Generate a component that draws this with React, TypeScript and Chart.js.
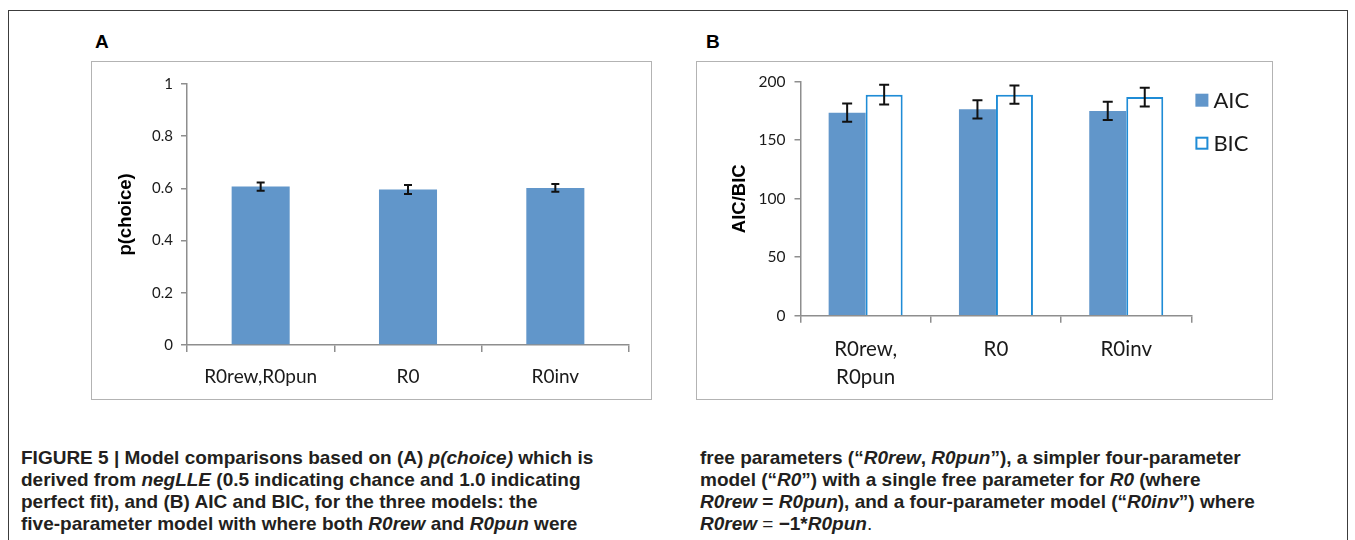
import React, { useEffect, useRef } from "react";
import { Chart, registerables } from "chart.js";

Chart.register(...registerables);

// ---------- Data ----------
const modelsA = ["R0rew,R0pun", "R0", "R0inv"];
const pChoice = [0.607, 0.596, 0.602];
const pChoiceErr = [0.016, 0.017, 0.015];
const yTicksA = [0, 0.2, 0.4, 0.6, 0.8, 1];

const modelsB = [["R0rew,", "R0pun"], "R0", "R0inv"];
const aicValues = [173.5, 176.4, 175.0];
const aicErr = [7.8, 7.8, 7.8];
const bicValues = [188.9, 188.9, 186.9];
const bicErr = [8.4, 7.8, 8.0];
const yTicksB = [0, 50, 100, 150, 200];

// ---------- Styles ----------
const AXIS = "#8e8e8e";
const BAR_FILL = "#6196ca";
const BIC_EDGE = "#1f8cd6";
const TXT = "#1a1a1a";
const TICK_FONT = "Lato, 'Open Sans', sans-serif";
const TITLE_FONT = "'Liberation Sans', Arial, sans-serif";

const errorBarPlugin = {
  id: "errorBars",
  afterDatasetsDraw(chart: any) {
    const { ctx } = chart;
    const yScale = chart.scales.y;
    chart.data.datasets.forEach((ds: any, di: number) => {
      const meta = chart.getDatasetMeta(di);
      if (!ds.errors) return;
      const cap = ds.capWidth || 8;
      meta.data.forEach((el: any, i: number) => {
        const v = ds.data[i];
        const e = ds.errors[i];
        const yTop = yScale.getPixelForValue(v + e);
        const yBot = yScale.getPixelForValue(v - e);
        ctx.save();
        ctx.strokeStyle = "#111";
        ctx.lineWidth = 2;
        ctx.beginPath();
        ctx.moveTo(el.x, yTop);
        ctx.lineTo(el.x, yBot);
        ctx.moveTo(el.x - cap / 2, yTop);
        ctx.lineTo(el.x + cap / 2, yTop);
        ctx.moveTo(el.x - cap / 2, yBot);
        ctx.lineTo(el.x + cap / 2, yBot);
        ctx.stroke();
        ctx.restore();
      });
    });
  },
};

const sideLegendPlugin = {
  id: "sideLegend",
  afterDraw(chart: any) {
    const { ctx, chartArea } = chart;
    chart.data.datasets.forEach((ds: any, i: number) => {
      const x = chartArea.right + 4;
      const y = chartArea.top + 12 + i * 43;
      const s = 13;
      ctx.save();
      if (ds.backgroundColor === "#ffffff") {
        ctx.fillStyle = "#ffffff";
        ctx.fillRect(x, y, s, s);
        ctx.strokeStyle = ds.borderColor;
        ctx.lineWidth = 2;
        ctx.strokeRect(x + 1, y + 1, s - 2, s - 2);
      } else {
        ctx.fillStyle = ds.backgroundColor;
        ctx.fillRect(x, y, s, s);
      }
      ctx.fillStyle = TXT;
      ctx.font = `22px ${TICK_FONT}`;
      ctx.textBaseline = "middle";
      ctx.textAlign = "left";
      ctx.fillText(ds.label, x + s + 5, y + s / 2 + 1);
      ctx.restore();
    });
  },
};

function fmtTick(v: number) {
  return String(Math.round(v * 100) / 100);
}

function ChartA() {
  const ref = useRef<HTMLCanvasElement>(null);
  useEffect(() => {
    const chart = new Chart(ref.current!, {
      type: "bar",
      data: {
        labels: modelsA,
        datasets: [
          {
            label: "p(choice)",
            data: pChoice,
            backgroundColor: BAR_FILL,
            borderWidth: 0,
            categoryPercentage: 1,
            barPercentage: 0.394,
            errors: pChoiceErr,
            capWidth: 8,
          } as any,
        ],
      },
      options: {
        responsive: false,
        animation: false,
        events: [],
        layout: { padding: { left: 0, right: 22, top: 22, bottom: 0 } },
        plugins: { legend: { display: false }, tooltip: { enabled: false } },
        scales: {
          x: {
            offset: true,
            grid: { display: true, drawOnChartArea: false, drawTicks: true, tickLength: 7, color: AXIS, lineWidth: 1.5, offset: true },
            border: { display: true, color: AXIS, width: 1.5 },
            ticks: { font: { family: TICK_FONT, size: 19 }, color: TXT, padding: 13, maxRotation: 0 },
            afterFit: (s: any) => { s.height = 54; },
          },
          y: {
            min: 0,
            max: 1,
            afterBuildTicks: (s: any) => { s.ticks = yTicksA.map((v) => ({ value: v })); },
            ticks: { font: { family: TICK_FONT, size: 15 }, color: TXT, padding: 8, callback: (v: any) => fmtTick(v) },
            grid: { display: true, drawOnChartArea: false, drawTicks: true, tickLength: 6, color: AXIS, lineWidth: 1.5 },
            border: { display: true, color: AXIS, width: 1.5 },
            title: { display: true, text: "p(choice)", color: "#000", font: { family: TITLE_FONT, size: 18.5, weight: "bold" }, padding: { top: 22.7, bottom: 0 } },
            afterFit: (s: any) => { s.width = 95; },
          },
        },
      },
      plugins: [errorBarPlugin],
    } as any);
    return () => chart.destroy();
  }, []);
  return <canvas ref={ref} width={559} height={337} style={{ position: "absolute", left: 92, top: 62, width: 559, height: 337 }} />;
}

function ChartB() {
  const ref = useRef<HTMLCanvasElement>(null);
  useEffect(() => {
    const chart = new Chart(ref.current!, {
      type: "bar",
      data: {
        labels: modelsB,
        datasets: [
          {
            label: "AIC",
            data: aicValues,
            backgroundColor: BAR_FILL,
            borderWidth: 0,
            categoryPercentage: 0.568,
            barPercentage: 1,
            errors: aicErr,
            capWidth: 10,
          } as any,
          {
            label: "BIC",
            data: bicValues,
            backgroundColor: "#ffffff",
            borderColor: BIC_EDGE,
            borderWidth: 2,
            borderSkipped: "start",
            categoryPercentage: 0.568,
            barPercentage: 1,
            errors: bicErr,
            capWidth: 10,
          } as any,
        ],
      },
      options: {
        responsive: false,
        animation: false,
        events: [],
        layout: { padding: { left: 0, right: 80.6, top: 19.7, bottom: 0 } },
        plugins: { legend: { display: false }, tooltip: { enabled: false } },
        scales: {
          x: {
            offset: true,
            grid: { display: true, drawOnChartArea: false, drawTicks: true, tickLength: 7, color: AXIS, lineWidth: 1.5, offset: true },
            border: { display: true, color: AXIS, width: 1.5 },
            ticks: { font: { family: TICK_FONT, size: 20.5, lineHeight: 1.37 }, color: TXT, padding: 13, maxRotation: 0 },
            afterFit: (s: any) => { s.height = 83.3; },
          },
          y: {
            min: 0,
            max: 200,
            afterBuildTicks: (s: any) => { s.ticks = yTicksB.map((v) => ({ value: v })); },
            ticks: { font: { family: TICK_FONT, size: 15.5 }, color: TXT, padding: 9, callback: (v: any) => fmtTick(v) },
            grid: { display: true, drawOnChartArea: false, drawTicks: true, tickLength: 6, color: AXIS, lineWidth: 1.5 },
            border: { display: true, color: AXIS, width: 1.5 },
            title: { display: true, text: "AIC/BIC", color: "#000", font: { family: TITLE_FONT, size: 18.5, weight: "bold" }, padding: { top: 31.9, bottom: 0 } },
            afterFit: (s: any) => { s.width = 103.5; },
          },
        },
      },
      plugins: [errorBarPlugin, sideLegendPlugin],
    } as any);
    return () => chart.destroy();
  }, []);
  return <canvas ref={ref} width={575} height={337} style={{ position: "absolute", left: 697, top: 62, width: 575, height: 337 }} />;
}

function CapLine(props: { left: number; top: number; children: React.ReactNode }) {
  return (
    <div
      style={{
        position: "absolute",
        left: props.left,
        top: props.top,
        fontFamily: TITLE_FONT,
        fontWeight: "bold",
        fontSize: 19,
        lineHeight: "22px",
        whiteSpace: "nowrap",
        color: "#231f20",
      }}
    >
      {props.children}
    </div>
  );
}

export default function App() {
  const L = 21, R = 700, T0 = 447, LH = 22;
  return (
    <div style={{ position: "absolute", left: 0, top: 0, width: 1355, height: 540, overflow: "hidden", background: "#fff" }}>
      <div style={{ position: "absolute", left: 8, top: 10, width: 1338, height: 600, border: "1.5px solid #3c3c3c" }} />
      <div style={{ position: "absolute", left: 95, top: 30, fontFamily: TITLE_FONT, fontWeight: "bold", fontSize: 19, lineHeight: "24px", color: "#000" }}>A</div>
      <div style={{ position: "absolute", left: 706, top: 30, fontFamily: TITLE_FONT, fontWeight: "bold", fontSize: 19, lineHeight: "24px", color: "#000" }}>B</div>
      <div style={{ position: "absolute", left: 91, top: 61, width: 559, height: 337, border: "1.5px solid #b3b3b3" }} />
      <div style={{ position: "absolute", left: 696, top: 61, width: 575, height: 337, border: "1.5px solid #b3b3b3" }} />
      <ChartA />
      <ChartB />
      <CapLine left={L} top={T0}>FIGURE 5 | Model comparisons based on (A) <i>p(choice)</i> which is</CapLine>
      <CapLine left={L} top={T0 + LH}>derived from <i>negLLE</i> (0.5 indicating chance and 1.0 indicating</CapLine>
      <CapLine left={L} top={T0 + 2 * LH}>perfect fit), and (B) AIC and BIC, for the three models: the</CapLine>
      <CapLine left={L} top={T0 + 3 * LH}>five-parameter model with where both <i>R0rew</i> and <i>R0pun</i> were</CapLine>
      <CapLine left={R} top={T0}>free parameters (“<i>R0rew</i>, <i>R0pun</i>”), a simpler four-parameter</CapLine>
      <CapLine left={R} top={T0 + LH}>model (“<i>R0</i>”) with a single free parameter for <i>R0</i> (where</CapLine>
      <CapLine left={R} top={T0 + 2 * LH}><i>R0rew</i> = <i>R0pun</i>), and a four-parameter model (“<i>R0inv</i>”) where</CapLine>
      <CapLine left={R} top={T0 + 3 * LH}><i>R0rew</i> <span style={{ fontWeight: "normal" }}>=</span> −1*<i>R0pun</i><span style={{ fontWeight: "normal" }}>.</span></CapLine>
    </div>
  );
}
